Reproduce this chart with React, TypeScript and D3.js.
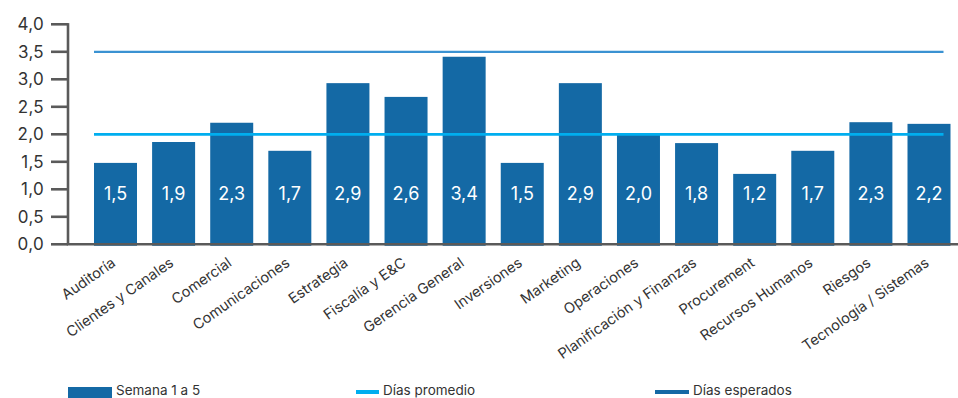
import React from "react";
import * as d3 from "d3";

const categories = [
  "Auditoría", "Clientes y Canales", "Comercial", "Comunicaciones", "Estrategia",
  "Fiscalía y E&C", "Gerencia General", "Inversiones", "Marketing", "Operaciones",
  "Planificación y Finanzas", "Procurement", "Recursos Humanos", "Riesgos", "Tecnología / Sistemas",
];
const semanaValues = [1.48, 1.86, 2.21, 1.7, 2.93, 2.68, 3.41, 1.48, 2.93, 1.99, 1.84, 1.28, 1.7, 2.22, 2.19];
const semanaLabels = ["1,5", "1,9", "2,3", "1,7", "2,9", "2,6", "3,4", "1,5", "2,9", "2,0", "1,8", "1,2", "1,7", "2,3", "2,2"];
const diasPromedio = 2.0;
const diasEsperados = 3.5;
const yTicks = [0, 0.5, 1, 1.5, 2, 2.5, 3, 3.5, 4];
const legendItems = ["Semana 1 a 5", "Días promedio", "Días esperados"];

const W = 958;
const H = 398;
const FONT = "Inter, 'Open Sans', sans-serif";

export default function App() {
  const y = d3.scaleLinear().domain([0, 4]).range([244.3, 24.3]);
  const x = d3.scaleBand<string>().domain(categories).range([94, 950.5]).paddingInner(0.26).paddingOuter(0);
  const fmt = (v: number) => d3.format(".1f")(v).replace(".", ",");
  const axisX = 68;
  const lineStart = x(categories[0])!;
  const lineEnd = x(categories[categories.length - 1])! + x.bandwidth() - 7;
  const dark = "#1469a5";

  return (
    <svg width={W} height={H} style={{ position: "absolute", left: 0, top: 0, fontFamily: FONT }}>
      {/* bars */}
      {categories.map((c, i) => (
        <rect key={c} x={x(c)} y={y(semanaValues[i])} width={x.bandwidth()} height={y(0) - y(semanaValues[i]) + 1.5} fill={dark} />
      ))}
      {/* reference lines */}
      <line x1={lineStart} x2={lineEnd} y1={y(diasEsperados)} y2={y(diasEsperados)} stroke="#3a92d2" strokeWidth={2.2} />
      <line x1={lineStart} x2={lineEnd} y1={y(diasPromedio)} y2={y(diasPromedio)} stroke="#00aeef" strokeWidth={2.8} />
      {/* bar labels */}
      {categories.map((c, i) => (
        <text key={c} x={x(c)! + x.bandwidth() / 2} y={200} textAnchor="middle" fill="#fff" fontSize={18}>
          {semanaLabels[i]}
        </text>
      ))}
      {/* y axis */}
      <line x1={axisX} x2={axisX} y1={y(4) - 1.2} y2={y(0)} stroke="#5a5a5a" strokeWidth={2.6} />
      {yTicks.map((t) => (
        <g key={t}>
          <line x1={51} x2={axisX} y1={y(t)} y2={y(t)} stroke="#5a5a5a" strokeWidth={2.6} />
          <text x={44} y={y(t)} dy="0.36em" textAnchor="end" fill="#333" fontSize={17} letterSpacing={0.3}>
            {fmt(t)}
          </text>
        </g>
      ))}
      {/* x axis */}
      <line x1={axisX - 1.3} x2={W} y1={y(0)} y2={y(0)} stroke="#5a5a5a" strokeWidth={2.6} />
      {categories.map((c) => (
        <text
          key={c}
          transform={`translate(${x(c)! + x.bandwidth() / 2 + 1},${265}) rotate(-35)`}
          textAnchor="end"
          fill="#333"
          fontSize={14.5}
        >
          {c}
        </text>
      ))}
      {/* legend */}
      <rect x={68} y={387} width={44} height={11} fill={dark} />
      <text x={116} y={394.5} fill="#333" fontSize={13.5}>{legendItems[0]}</text>
      <line x1={356} x2={379} y1={392} y2={392} stroke="#00aeef" strokeWidth={4} />
      <text x={383} y={394.5} fill="#333" fontSize={13.5}>{legendItems[1]}</text>
      <line x1={655} x2={689} y1={392} y2={392} stroke={dark} strokeWidth={4} />
      <text x={693} y={394.5} fill="#333" fontSize={13.5}>{legendItems[2]}</text>
    </svg>
  );
}
